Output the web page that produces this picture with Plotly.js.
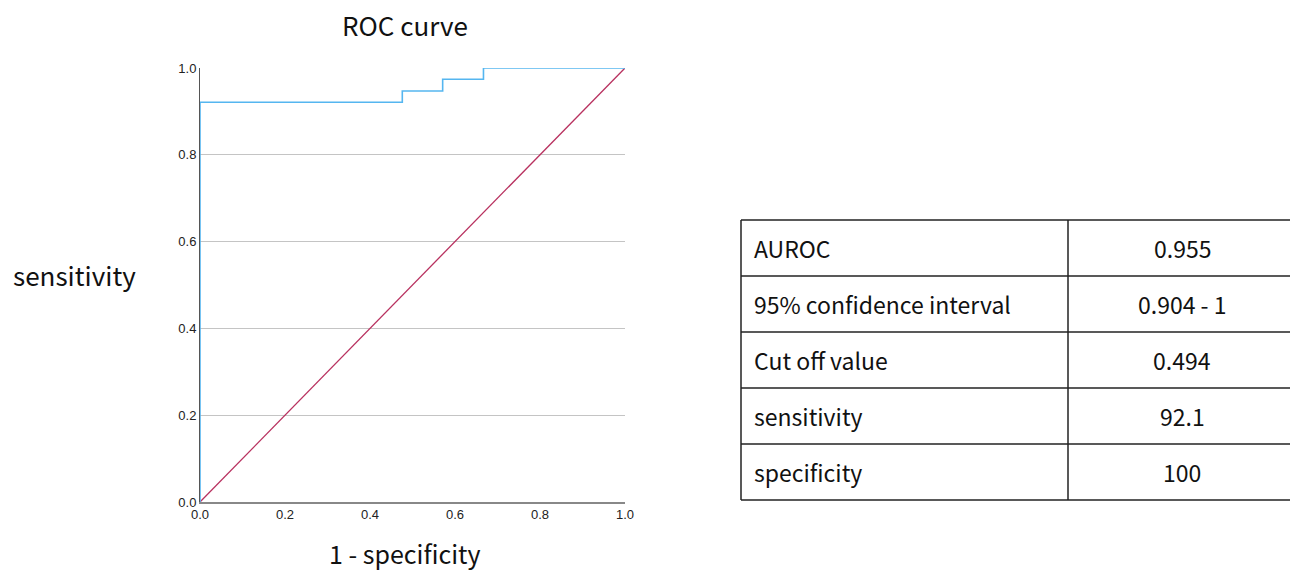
<!DOCTYPE html>
<html>
<head>
<meta charset="utf-8">
<script src="https://cdn.plot.ly/plotly-3.0.1.min.js"></script>
<style>html,body{margin:0;padding:0;background:#fff;}#chart{width:1290px;height:571px;}</style>
</head>
<body>
<div id="chart"></div>
<script>
// ROC curve data (1 - specificity, sensitivity)
const rocFPR = [0, 0, 0.476, 0.476, 0.571, 0.571, 0.667, 0.667, 1.0];
const rocTPR = [0, 0.921, 0.921, 0.947, 0.947, 0.974, 0.974, 1.0, 1.0];
// reference diagonal
const diagX = [0, 1];
const diagY = [0, 1];
// tick values / labels
const tickVals = [0, 0.2, 0.4, 0.6, 0.8, 1.0];
const tickText = ["0.0", "0.2", "0.4", "0.6", "0.8", "1.0"];
// summary table
const tableLabels = ["AUROC", "95% confidence interval", "Cut off value", "sensitivity", "specificity"];
const tableValues = ["0.955", "0.904 - 1", "0.494", "92.1", "100"];

const W = 1290, H = 571;
const jp = '"Noto Sans CJK JP", "Noto Sans", sans-serif';
const tickFont = {family: '"Liberation Sans", Arial, sans-serif', size: 13, color: '#222'};
const textColor = '#111';

// table geometry (pixels)
const tblLeft = 741, tblSplit = 1068, tblRight = 1300, tblTop = 220, rowH = 56;
const valCenter = 1182, labelPad = 11;
const px = v => v / W;
const py = v => 1 - v / H;

const shapes = [];
const annotations = [];
const nRows = tableLabels.length;
for (let i = 0; i <= nRows; i++) {
  const y = tblTop + i * rowH;
  shapes.push({type: 'line', xref: 'paper', yref: 'paper', x0: px(tblLeft), x1: px(tblRight),
               y0: py(y), y1: py(y), line: {color: '#222', width: 1.5}});
}
[tblLeft, tblSplit].forEach(x => {
  shapes.push({type: 'line', xref: 'paper', yref: 'paper', x0: px(x), x1: px(x),
               y0: py(tblTop), y1: py(tblTop + nRows * rowH), line: {color: '#222', width: 1.5}});
});
for (let i = 0; i < nRows; i++) {
  const yc = py(tblTop + (i + 0.5) * rowH);
  annotations.push({text: tableLabels[i], xref: 'paper', yref: 'paper', x: px(tblLeft + labelPad), y: yc,
                    xanchor: 'left', yanchor: 'middle', showarrow: false,
                    font: {family: jp, size: 23, color: textColor}});
  annotations.push({text: tableValues[i], xref: 'paper', yref: 'paper', x: px(valCenter), y: yc,
                    xanchor: 'center', yanchor: 'middle', showarrow: false,
                    font: {family: jp, size: 23, color: textColor}});
}
annotations.push({text: 'sensitivity', xref: 'paper', yref: 'paper', x: px(74), y: py(275),
                  xanchor: 'center', yanchor: 'middle', showarrow: false,
                  font: {family: jp, size: 26, color: textColor}});
annotations.push({text: '1 - specificity', xref: 'paper', yref: 'paper', x: px(405), y: py(553),
                  xanchor: 'center', yanchor: 'middle', showarrow: false, borderpad: 0,
                  font: {family: jp, size: 25, color: textColor}});

const traces = [
  {x: diagX, y: diagY, type: 'scatter', mode: 'lines',
   line: {color: '#b8315f', width: 1.3}, hoverinfo: 'skip', showlegend: false},
  {x: rocFPR, y: rocTPR, type: 'scatter', mode: 'lines',
   line: {color: '#55b6f0', width: 1.6}, hoverinfo: 'skip', showlegend: false}
];

const layout = {
  width: W, height: H,
  margin: {l: 0, r: 0, t: 0, b: 0},
  paper_bgcolor: '#fff', plot_bgcolor: '#fff',
  showlegend: false,
  title: {text: 'ROC curve', x: px(405), xanchor: 'center', y: py(27), yanchor: 'middle',
          font: {family: jp, size: 26, color: textColor}},
  xaxis: {domain: [px(200), px(625)], range: [0, 1], tickvals: tickVals, ticktext: tickText,
          showgrid: false, zeroline: false, showline: true, linecolor: '#888', linewidth: 1.5,
          ticks: '', tickfont: tickFont, layer: 'below traces', fixedrange: true},
  yaxis: {domain: [69 / H, 503 / H], range: [0, 1], tickvals: tickVals, ticktext: tickText,
          showgrid: true, gridcolor: '#c4c4c4', gridwidth: 1, zeroline: false,
          showline: true, linecolor: '#555', linewidth: 1,
          ticks: '', tickfont: tickFont, layer: 'below traces', fixedrange: true},
  shapes: shapes,
  annotations: annotations
};

Plotly.newPlot('chart', traces, layout, {staticPlot: true, displayModeBar: false});
</script>
</body>
</html>
